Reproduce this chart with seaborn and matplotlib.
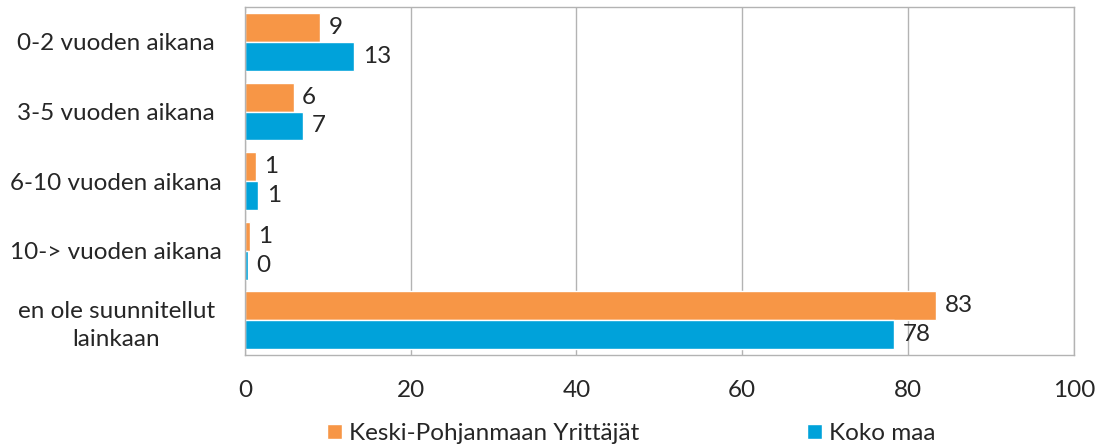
import pandas as pd
import numpy as np
import matplotlib.pyplot as plt
import seaborn as sns

categories = ['0-2 vuoden aikana', '3-5 vuoden aikana', '6-10 vuoden aikana',
              '10-> vuoden aikana', 'en ole suunnitellut\nlainkaan']
series = ['Keski-Pohjanmaan Yrittäjät', 'Koko maa']
keski_values = [9.1, 5.9, 1.3, 0.6, 83.4]
koko_values = [13.2, 7.0, 1.6, 0.4, 78.3]
keski_labels = ['9', '6', '1', '1', '83']
koko_labels = ['13', '7', '1', '0', '78']
colors = ['#F79646', '#00A2DA']

df = pd.DataFrame({
    'kategoria': categories * 2,
    'sarja': [series[0]] * len(categories) + [series[1]] * len(categories),
    'arvo': keski_values + koko_values,
})

sns.set_style('white')
plt.rcParams['font.family'] = ['Lato', 'DejaVu Sans']
fs = 17.5

fig = plt.figure(figsize=(11.11, 4.46), dpi=100)
ax = fig.add_axes([0.2205, 0.204, 0.746, 0.780])
sns.barplot(data=df, y='kategoria', x='arvo', hue='sarja', orient='h',
            palette=colors, width=0.83, ax=ax, saturation=1)

for cont, labs in zip(ax.containers, [keski_labels, koko_labels]):
    ax.bar_label(cont, labels=labs, padding=6, fontsize=fs)

ax.set_xlim(0, 100)
ax.set_xticks(np.arange(0, 101, 20))
ax.grid(axis='x', color='#B3B3B3', linewidth=1)
ax.set_axisbelow(True)
for s in ax.spines.values():
    s.set_color('#B3B3B3')
    s.set_linewidth(1)
ax.tick_params(axis='both', length=0, labelsize=fs)
ax.tick_params(axis='x', pad=18)
for t in ax.get_yticklabels():
    t.set_horizontalalignment('center')
    t.set_x(-0.1496)
    t.set_linespacing(1.4)
ax.set_xlabel('')
ax.set_ylabel('')

ax.legend(loc='center', bbox_to_anchor=(0.466, -0.225), ncol=2, frameon=False,
          fontsize=fs, handlelength=0.6, handleheight=0.6, handletextpad=0.3,
          columnspacing=6.9, borderaxespad=0)

fig.savefig('out.png', dpi=100)
